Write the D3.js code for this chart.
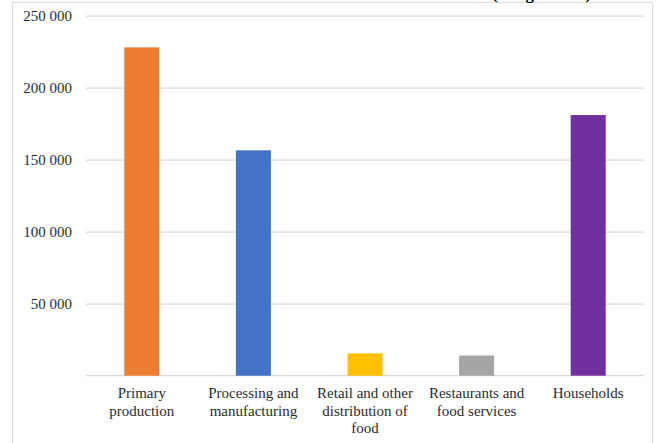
<!DOCTYPE html>
<html>
<head>
<meta charset="utf-8">
<script src="https://cdn.jsdelivr.net/npm/d3@7"></script>
<style>
  html, body { margin: 0; padding: 0; background: #fff; }
  svg { display: block; }
  text { font-family: "Liberation Serif", "Times New Roman", serif; }
</style>
</head>
<body>
<svg id="chart" width="660" height="443"></svg>
<script>
// Food waste by stage of the supply chain
const categories = [
  "Primary production",
  "Processing and manufacturing",
  "Retail and other distribution of food",
  "Restaurants and food services",
  "Households"
];
const categoryLines = [
  ["Primary", "production"],
  ["Processing and", "manufacturing"],
  ["Retail and other", "distribution of", "food"],
  ["Restaurants and", "food services"],
  ["Households"]
];
const values = [228000, 156500, 15500, 14000, 181000];
const colors = ["#ED7D31", "#4472C4", "#FFC000", "#A5A5A5", "#7030A0"];
const yTicks = [50000, 100000, 150000, 200000, 250000];
const unitLabel = "(in kg tonnes)";

const svg = d3.select("#chart");
const plotLeft = 86, plotRight = 644, plotTop = 15.7, plotBottom = 375.7;
const labelColor = "#2b2b2b";

// Frame around the chart area
svg.append("rect")
  .attr("x", 12.5).attr("y", 2.5)
  .attr("width", 640).attr("height", 460)
  .attr("fill", "none").attr("stroke", "#d9d9d9").attr("stroke-width", 1);

// Unit caption; the page edge clips all but its descenders
svg.append("text")
  .attr("x", 492).attr("y", -1)
  .attr("font-size", 17).attr("font-weight", "bold")
  .attr("fill", "#000")
  .text(unitLabel);

const x = d3.scaleBand()
  .domain(categories)
  .range([plotLeft, plotRight])
  .paddingInner(0.686)
  .paddingOuter(0.343);

const y = d3.scaleLinear()
  .domain([0, 250000])
  .range([plotBottom, plotTop]);

const fmt = v => d3.format(",")(v).replace(/,/g, " ");

// Gridlines and y-axis labels
const yAxis = d3.axisLeft(y)
  .tickValues(yTicks)
  .tickSize(-(plotRight - plotLeft))
  .tickPadding(14)
  .tickFormat(fmt);

const gy = svg.append("g")
  .attr("transform", `translate(${plotLeft},0)`)
  .call(yAxis);
gy.select(".domain").remove();
gy.selectAll(".tick line").attr("stroke", "#d9d9d9").attr("stroke-width", 1.3);
gy.selectAll(".tick text")
  .attr("font-size", 15)
  .attr("fill", labelColor);

// Baseline
svg.append("line")
  .attr("x1", plotLeft).attr("x2", plotRight)
  .attr("y1", y(0)).attr("y2", y(0))
  .attr("stroke", "#d9d9d9").attr("stroke-width", 1.3);

// Bars
svg.append("g")
  .selectAll("rect")
  .data(values)
  .join("rect")
  .attr("x", (d, i) => x(categories[i]))
  .attr("width", x.bandwidth())
  .attr("y", d => y(d))
  .attr("height", d => y(0) - y(d))
  .attr("fill", (d, i) => colors[i]);

// Category labels (wrapped)
const xAxis = d3.axisBottom(x).tickSize(0).tickFormat("");
const gx = svg.append("g")
  .attr("transform", `translate(0,${plotBottom})`)
  .call(xAxis);
gx.select(".domain").remove();
gx.selectAll(".tick").each(function (d, i) {
  const t = d3.select(this).append("text")
    .attr("text-anchor", "middle")
    .attr("font-size", 15)
    .attr("fill", labelColor);
  categoryLines[i].forEach((line, k) => {
    t.append("tspan")
      .attr("x", 0)
      .attr("y", 22.5 + k * 17.5)
      .text(line);
  });
});
</script>
</body>
</html>
